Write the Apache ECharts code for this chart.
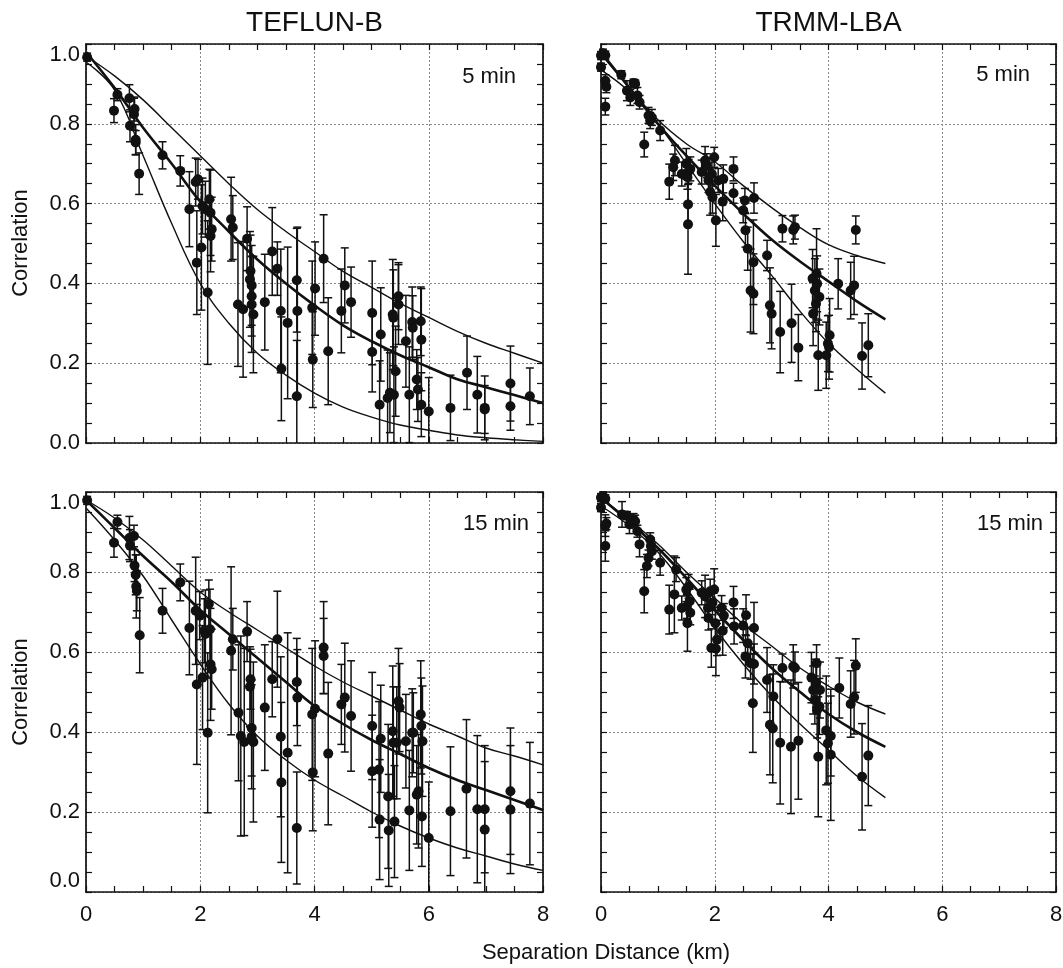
<!DOCTYPE html>
<html>
<head>
<meta charset="utf-8">
<script src="https://cdn.jsdelivr.net/npm/echarts@6/dist/echarts.min.js"></script>
<style>
html,body{margin:0;padding:0;background:#fff;}
#chart{width:1063px;height:968px;}
</style>
</head>
<body>
<div id="chart"></div>
<script>
// ---------- DATA ----------
const panelTitles = ['TEFLUN-B', 'TRMM-LBA'];
const panelLabels = ['5 min', '5 min', '15 min', '15 min'];
const xAxisTitle = 'Separation Distance (km)';
const yAxisTitle = 'Correlation';
const xTickValues = [0, 2, 4, 6, 8];
const yTickLabels = ['0.0', '0.2', '0.4', '0.6', '0.8', '1.0'];

// points: [distance km, correlation, error half-width]
const teflun5 = [
[0.02,0.967,0.01],[0.49,0.833,0.03],[0.55,0.873,0.015],[0.76,0.864,0.034],[0.77,0.795,0.04],[0.84,0.824,0.04],[0.85,0.837,0.03],[0.87,0.76,0.038],[0.87,0.753,0.03],[0.93,0.675,0.052],
[1.34,0.721,0.034],[1.65,0.682,0.038],[1.81,0.586,0.094],[1.92,0.654,0.06],[1.94,0.452,0.13],[1.96,0.661,0.05],[2.02,0.49,0.157],[2.04,0.594,0.07],[2.09,0.586,0.07],[2.13,0.377,0.18],
[2.16,0.611,0.075],[2.18,0.577,0.107],[2.18,0.519,0.09],[2.2,0.536,0.08],[2.54,0.561,0.105],[2.57,0.54,0.08],[2.66,0.347,0.155],[2.75,0.335,0.17],[2.82,0.512,0.08],[2.87,0.41,0.12],
[2.88,0.431,0.09],[2.9,0.368,0.1],[2.9,0.395,0.1],[2.9,0.347,0.12],[2.93,0.322,0.146],[3.13,0.353,0.12],[3.26,0.48,0.11],[3.35,0.437,0.067],[3.41,0.331,0.155],[3.42,0.186,0.13],
[3.53,0.301,0.19],[3.69,0.408,0.13],[3.7,0.331,0.21],[3.69,0.117,0.14],[3.96,0.339,0.117],[3.97,0.209,0.12],[4.01,0.387,0.117],[4.16,0.462,0.11],[4.24,0.23,0.134],[4.47,0.331,0.105],
[4.53,0.395,0.094],[4.64,0.353,0.088],[5.01,0.326,0.13],[5.01,0.228,0.1],[5.14,0.096,0.11],[5.16,0.272,0.117],[5.28,0.113,0.12],[5.32,0.126,0.1],[5.37,0.322,0.138],[5.38,0.314,0.12],
[5.39,0.121,0.12],[5.42,0.18,0.113],[5.47,0.368,0.084],[5.47,0.347,0.1],[5.6,0.255,0.115],[5.66,0.121,0.12],[5.71,0.303,0.088],[5.72,0.289,0.08],[5.79,0.159,0.075],[5.81,0.134,0.08],
[5.86,0.305,0.086],[5.87,0.259,0.128],[5.87,0.096,0.08],[6.0,0.079,0.085],[6.38,0.088,0.082],[6.67,0.176,0.092],[6.85,0.121,0.096],[6.98,0.088,0.08],[6.98,0.084,0.06],[7.43,0.149,0.094],
[7.43,0.092,0.06],[7.77,0.117,0.071]
];
const trmm5 = [
[0,0.971,0.01],[0.035,0.977,0.01],[0.076,0.972,0.01],[0,0.942,0.01],[0.076,0.908,0.015],[0.094,0.893,0.015],[0.076,0.843,0.021],
[0.357,0.923,0.01],[0.456,0.883,0.025],[0.515,0.866,0.02],[0.573,0.902,0.01],[0.6,0.9,0.01],[0.64,0.871,0.02],[0.678,0.854,0.017],[0.836,0.821,0.02],[0.865,0.808,0.02],[0.895,0.816,0.02],[1.04,0.783,0.025],[0.76,0.748,0.031],
[1.2,0.655,0.044],[1.27,0.691,0.033],[1.3,0.708,0.038],[1.42,0.674,0.03],[1.5,0.7,0.038],[1.52,0.666,0.03],[1.54,0.681,0.03],[1.57,0.687,0.03],[1.53,0.598,0.05],[1.53,0.548,0.125],
[1.77,0.679,0.03],[1.83,0.708,0.035],[1.86,0.695,0.03],[1.89,0.658,0.03],[1.92,0.629,0.058],[1.95,0.674,0.03],[1.96,0.616,0.04],[1.99,0.716,0.025],[2.02,0.558,0.065],[2.06,0.658,0.03],
[2.14,0.605,0.048],[2.15,0.662,0.035],[2.33,0.687,0.03],[2.33,0.626,0.025],[2.5,0.583,0.031],[2.53,0.608,0.03],[2.54,0.533,0.042],[2.58,0.487,0.054],[2.69,0.614,0.038],[2.63,0.382,0.104],[2.68,0.453,0.106],[2.68,0.374,0.1],
[2.92,0.47,0.038],[2.97,0.345,0.094],[3.0,0.324,0.088],[3.15,0.278,0.102],[3.19,0.537,0.033],[3.35,0.3,0.098],[3.38,0.534,0.035],[3.41,0.541,0.03],[3.47,0.239,0.083],
[3.72,0.412,0.073],[3.73,0.324,0.08],[3.76,0.382,0.08],[3.78,0.349,0.07],[3.79,0.424,0.113],[3.8,0.399,0.07],[3.82,0.22,0.088],[3.84,0.366,0.07],[3.96,0.22,0.083],[3.99,0.249,0.07],[4.02,0.27,0.092],[4.01,0.24,0.08],
[4.17,0.399,0.063],[4.39,0.382,0.071],[4.45,0.395,0.073],[4.48,0.534,0.035],[4.59,0.218,0.083],[4.7,0.245,0.079]
];
const teflun15 = [
[0.02,0.979,0.01],[0.49,0.873,0.036],[0.55,0.925,0.017],[0.76,0.885,0.054],[0.77,0.866,0.04],[0.84,0.89,0.027],[0.85,0.816,0.04],[0.87,0.793,0.05],[0.88,0.764,0.079],[0.89,0.753,0.05],
[0.94,0.642,0.094],[1.34,0.703,0.056],[1.65,0.774,0.046],[1.81,0.66,0.117],[1.92,0.703,0.134],[1.94,0.519,0.2],[1.99,0.691,0.06],[2.04,0.536,0.13],[2.07,0.653,0.08],[2.09,0.645,0.11],
[2.13,0.398,0.2],[2.15,0.72,0.06],[2.17,0.657,0.1],[2.18,0.569,0.14],[2.2,0.557,0.1],[2.54,0.603,0.21],[2.57,0.632,0.077],[2.67,0.448,0.17],[2.71,0.39,0.25],[2.77,0.375,0.234],
[2.82,0.651,0.075],[2.87,0.513,0.1],[2.88,0.532,0.075],[2.9,0.41,0.12],[2.9,0.388,0.13],[2.93,0.375,0.2],[3.13,0.461,0.157],[3.26,0.532,0.094],[3.35,0.632,0.12],[3.41,0.388,0.2],
[3.42,0.274,0.2],[3.53,0.348,0.3],[3.69,0.16,0.14],[3.69,0.525,0.109],[3.7,0.486,0.12],[3.96,0.444,0.165],[3.97,0.299,0.146],[4.01,0.458,0.17],[4.16,0.611,0.115],[4.16,0.59,0.094],
[4.24,0.346,0.178],[4.47,0.469,0.1],[4.53,0.486,0.136],[4.64,0.44,0.138],[5.01,0.415,0.134],[5.01,0.302,0.14],[5.13,0.306,0.17],[5.14,0.181,0.15],[5.16,0.383,0.134],[5.29,0.239,0.18],
[5.3,0.154,0.14],[5.37,0.402,0.163],[5.38,0.373,0.14],[5.4,0.176,0.14],[5.44,0.373,0.14],[5.47,0.477,0.132],[5.49,0.461,0.11],[5.6,0.377,0.117],[5.66,0.204,0.15],[5.71,0.398,0.11],
[5.73,0.398,0.1],[5.79,0.243,0.123],[5.82,0.252,0.142],[5.86,0.444,0.134],[5.87,0.415,0.12],[5.88,0.189,0.125],[5.89,0.377,0.138],[6.0,0.135,0.14],[6.38,0.202,0.161],[6.66,0.258,0.173],
[6.85,0.207,0.184],[6.98,0.207,0.159],[6.98,0.156,0.17],[7.43,0.252,0.158],[7.43,0.206,0.16],[7.77,0.221,0.153]
];
const trmm15 = [
[0,0.986,0.01],[0.035,0.99,0.01],[0.076,0.983,0.01],[0,0.961,0.01],[0.094,0.921,0.015],[0.076,0.916,0.027],[0.076,0.865,0.038],
[0.37,0.944,0.032],[0.456,0.941,0.01],[0.5,0.919,0.023],[0.573,0.931,0.015],[0.6,0.927,0.015],[0.64,0.902,0.015],[0.678,0.869,0.031],[0.76,0.752,0.054],[0.807,0.815,0.029],[0.836,0.835,0.02],[0.865,0.881,0.017],[0.877,0.865,0.02],[0.895,0.852,0.02],[1.04,0.823,0.031],
[1.2,0.706,0.061],[1.29,0.744,0.096],[1.32,0.806,0.03],[1.42,0.71,0.03],[1.5,0.756,0.03],[1.51,0.714,0.03],[1.52,0.672,0.07],[1.54,0.764,0.03],[1.57,0.698,0.03],[1.56,0.727,0.03],
[1.77,0.748,0.03],[1.83,0.739,0.053],[1.88,0.71,0.03],[1.89,0.685,0.03],[1.92,0.752,0.03],[1.94,0.61,0.048],[1.96,0.723,0.03],[1.99,0.756,0.052],[2.01,0.672,0.04],[2.02,0.608,0.067],[2.04,0.631,0.04],
[2.12,0.71,0.031],[2.14,0.653,0.061],[2.16,0.691,0.03],[2.33,0.724,0.04],[2.34,0.664,0.044],[2.5,0.666,0.042],[2.55,0.692,0.051],[2.54,0.589,0.054],[2.58,0.622,0.04],[2.63,0.572,0.04],[2.67,0.472,0.123],[2.69,0.66,0.064],[2.69,0.57,0.05],
[2.92,0.53,0.081],[2.97,0.418,0.125],[3.02,0.409,0.136],[3.03,0.489,0.079],[3.15,0.373,0.153],[3.19,0.56,0.035],[3.34,0.363,0.167],[3.38,0.564,0.054],[3.41,0.56,0.04],[3.47,0.378,0.146],
[3.7,0.536,0.063],[3.73,0.505,0.06],[3.76,0.48,0.06],[3.78,0.522,0.06],[3.79,0.572,0.046],[3.8,0.455,0.07],[3.82,0.338,0.15],[3.84,0.464,0.07],[3.85,0.505,0.07],[3.96,0.404,0.136],[3.99,0.372,0.1],[4.04,0.343,0.164],[4.04,0.39,0.1],
[4.19,0.51,0.075],[4.39,0.47,0.083],[4.45,0.487,0.092],[4.48,0.566,0.067],[4.59,0.288,0.133],[4.7,0.341,0.125]
];

// fitted curves
const dist8 = [0,0.5,1,1.5,2,2.5,3,3.5,4,4.5,5,5.5,6,6.5,7,7.5,8];
const dist5 = [0,0.5,1,1.5,2,2.5,3,3.5,4,4.5,5];
const teflun5Upper = [0.97,0.92,0.86,0.79,0.72,0.65,0.585,0.53,0.48,0.43,0.39,0.35,0.315,0.28,0.25,0.225,0.2];
const teflun5Mid   = [0.98,0.89,0.79,0.70,0.605,0.53,0.46,0.40,0.345,0.295,0.255,0.22,0.19,0.16,0.14,0.12,0.10];
const teflun5Lower = [0.955,0.885,0.72,0.55,0.40,0.30,0.225,0.17,0.125,0.09,0.065,0.045,0.032,0.02,0.013,0.008,0.004];
const trmm5Upper = [0.975,0.89,0.81,0.75,0.705,0.645,0.59,0.54,0.497,0.47,0.45];
const trmm5Mid   = [0.98,0.89,0.80,0.72,0.645,0.575,0.51,0.455,0.405,0.355,0.31];
const trmm5Lower = [0.935,0.88,0.80,0.70,0.60,0.505,0.42,0.33,0.25,0.185,0.125];
const teflun15Upper = [0.98,0.935,0.88,0.815,0.75,0.70,0.655,0.61,0.565,0.525,0.49,0.455,0.42,0.39,0.36,0.34,0.318];
const teflun15Mid   = [0.98,0.91,0.84,0.775,0.705,0.645,0.585,0.525,0.465,0.42,0.38,0.345,0.31,0.28,0.255,0.23,0.205];
const teflun15Lower = [0.96,0.88,0.79,0.68,0.57,0.47,0.39,0.33,0.28,0.24,0.2,0.165,0.135,0.11,0.09,0.07,0.054];
const trmm15Upper = [0.985,0.93,0.87,0.80,0.735,0.67,0.615,0.56,0.515,0.475,0.445];
const trmm15Mid   = [0.985,0.925,0.86,0.785,0.705,0.63,0.56,0.50,0.445,0.40,0.363];
const trmm15Lower = [0.965,0.915,0.85,0.76,0.66,0.57,0.49,0.42,0.355,0.29,0.236];

// ---------- CHART ----------
const FONT = '"Liberation Sans", Arial, Helvetica, sans-serif';
const panels = [
  {pts: teflun5,  d: dist8, curves: [teflun5Upper, teflun5Mid, teflun5Lower]},
  {pts: trmm5,    d: dist5, curves: [trmm5Upper, trmm5Mid, trmm5Lower]},
  {pts: teflun15, d: dist8, curves: [teflun15Upper, teflun15Mid, teflun15Lower]},
  {pts: trmm15,   d: dist5, curves: [trmm15Upper, trmm15Mid, trmm15Lower]}
];
const grids = [
  {left: 86,  top: 44,  width: 457, height: 399},
  {left: 601, top: 44,  width: 455, height: 399},
  {left: 86,  top: 492, width: 457, height: 400},
  {left: 601, top: 492, width: 455, height: 400}
];

const xAxes = [], yAxes = [], series = [];
const tickBase = {inside: true, length: 6, lineStyle: {color: '#111', width: 1.2}};
const minorBase = {show: true, splitNumber: 4, length: 6, lineStyle: {color: '#111', width: 1.2}};
grids.forEach((g, i) => {
  const bottomRow = i >= 2, leftCol = i % 2 === 0;
  xAxes.push({
    type: 'value', gridIndex: i, position: 'bottom', min: 0, max: 8, interval: 2,
    axisLine: {show: true, onZero: false, lineStyle: {color: '#111', width: 1.7}},
    axisTick: tickBase, minorTick: minorBase,
    splitLine: {show: true, lineStyle: {color: '#888', width: 1, type: [2, 2]}},
    axisLabel: {show: bottomRow, fontSize: 22, color: '#111', fontFamily: FONT, margin: 12,
      formatter: v => xTickValues.includes(v) ? String(v) : ''}
  });
  xAxes.push({
    type: 'value', gridIndex: i, position: 'top', min: 0, max: 8, interval: 2,
    axisLine: {show: true, onZero: false, lineStyle: {color: '#111', width: 1.7}},
    axisTick: tickBase, minorTick: minorBase, splitLine: {show: false}, axisLabel: {show: false}
  });
  yAxes.push({
    type: 'value', gridIndex: i, position: 'left', min: 0, max: 1, interval: 0.2,
    axisLine: {show: true, onZero: false, lineStyle: {color: '#111', width: 1.7}},
    axisTick: tickBase, minorTick: minorBase,
    splitLine: {show: true, lineStyle: {color: '#888', width: 1, type: [2, 2]}},
    axisLabel: {show: leftCol, fontSize: 22, color: '#111', fontFamily: FONT, margin: 6,
      verticalAlignMaxLabel: 'top', verticalAlignMinLabel: bottomRow ? 'bottom' : 'middle',
      formatter: v => yTickLabels[Math.round(v * 5)]}
  });
  yAxes.push({
    type: 'value', gridIndex: i, position: 'right', min: 0, max: 1, interval: 0.2,
    axisLine: {show: true, onZero: false, lineStyle: {color: '#111', width: 1.7}},
    axisTick: tickBase, minorTick: minorBase, splitLine: {show: false}, axisLabel: {show: false}
  });
});

function renderErr(params, api) {
  const x = api.value(0), loRaw = api.value(1), hiRaw = api.value(2);
  const lo = Math.max(0, loRaw), hi = Math.min(1, hiRaw);
  const pH = api.coord([x, hi]), pL = api.coord([x, lo]);
  const cap = 4;
  const st = {stroke: '#111', lineWidth: 1.5};
  const ch = [{type: 'line', shape: {x1: pH[0], y1: pH[1], x2: pL[0], y2: pL[1]}, style: st}];
  if (hiRaw <= 1) ch.push({type: 'line', shape: {x1: pH[0] - cap, y1: pH[1], x2: pH[0] + cap, y2: pH[1]}, style: st});
  if (loRaw >= 0) ch.push({type: 'line', shape: {x1: pL[0] - cap, y1: pL[1], x2: pL[0] + cap, y2: pL[1]}, style: st});
  return {type: 'group', children: ch};
}

panels.forEach((p, i) => {
  const xi = i * 2, yi = i * 2;
  series.push({
    type: 'custom', xAxisIndex: xi, yAxisIndex: yi, renderItem: renderErr,
    encode: {x: 0, y: [1, 2]}, silent: true, z: 3,
    data: p.pts.map(q => [q[0], q[1] - q[2], q[1] + q[2]])
  });
  series.push({
    type: 'scatter', xAxisIndex: xi, yAxisIndex: yi, symbol: 'circle', symbolSize: 10,
    itemStyle: {color: '#111', opacity: 1}, silent: true, z: 4,
    data: p.pts.map(q => [q[0], q[1]])
  });
  p.curves.forEach((c, k) => {
    series.push({
      type: 'line', xAxisIndex: xi, yAxisIndex: yi, smooth: 0.4, showSymbol: false, symbol: 'none',
      lineStyle: {color: '#111', width: k === 1 ? 2.6 : 1.4}, silent: true, z: 5,
      data: p.d.map((dv, j) => [dv, c[j]])
    });
  });
});

const graphics = [
  {type: 'text', x: 314.5, y: 23, style: {text: panelTitles[0], fontSize: 28, fontFamily: FONT, fill: '#111', align: 'center', verticalAlign: 'middle'}},
  {type: 'text', x: 828.5, y: 23, style: {text: panelTitles[1], fontSize: 28, fontFamily: FONT, fill: '#111', align: 'center', verticalAlign: 'middle'}},
  {type: 'text', x: 516, y: 77, style: {text: panelLabels[0], fontSize: 22, fontFamily: FONT, fill: '#111', align: 'right', verticalAlign: 'middle'}},
  {type: 'text', x: 1030, y: 75, style: {text: panelLabels[1], fontSize: 22, fontFamily: FONT, fill: '#111', align: 'right', verticalAlign: 'middle'}},
  {type: 'text', x: 529, y: 524, style: {text: panelLabels[2], fontSize: 22, fontFamily: FONT, fill: '#111', align: 'right', verticalAlign: 'middle'}},
  {type: 'text', x: 1043, y: 524, style: {text: panelLabels[3], fontSize: 22, fontFamily: FONT, fill: '#111', align: 'right', verticalAlign: 'middle'}},
  {type: 'text', x: 21, y: 243, rotation: Math.PI / 2, style: {text: yAxisTitle, fontSize: 22, fontFamily: FONT, fill: '#111', align: 'center', verticalAlign: 'middle'}},
  {type: 'text', x: 21, y: 692, rotation: Math.PI / 2, style: {text: yAxisTitle, fontSize: 22, fontFamily: FONT, fill: '#111', align: 'center', verticalAlign: 'middle'}},
  {type: 'text', x: 606, y: 953, style: {text: xAxisTitle, fontSize: 22, fontFamily: FONT, fill: '#111', align: 'center', verticalAlign: 'middle'}}
];

const chart = echarts.init(document.getElementById('chart'), null, {renderer: 'canvas'});
chart.setOption({
  backgroundColor: '#fff',
  animation: false,
  grid: grids.map(g => Object.assign({containLabel: false, outerBoundsMode: 'none'}, g)),
  xAxis: xAxes,
  yAxis: yAxes,
  series: series,
  graphic: graphics
});
</script>
</body>
</html>
